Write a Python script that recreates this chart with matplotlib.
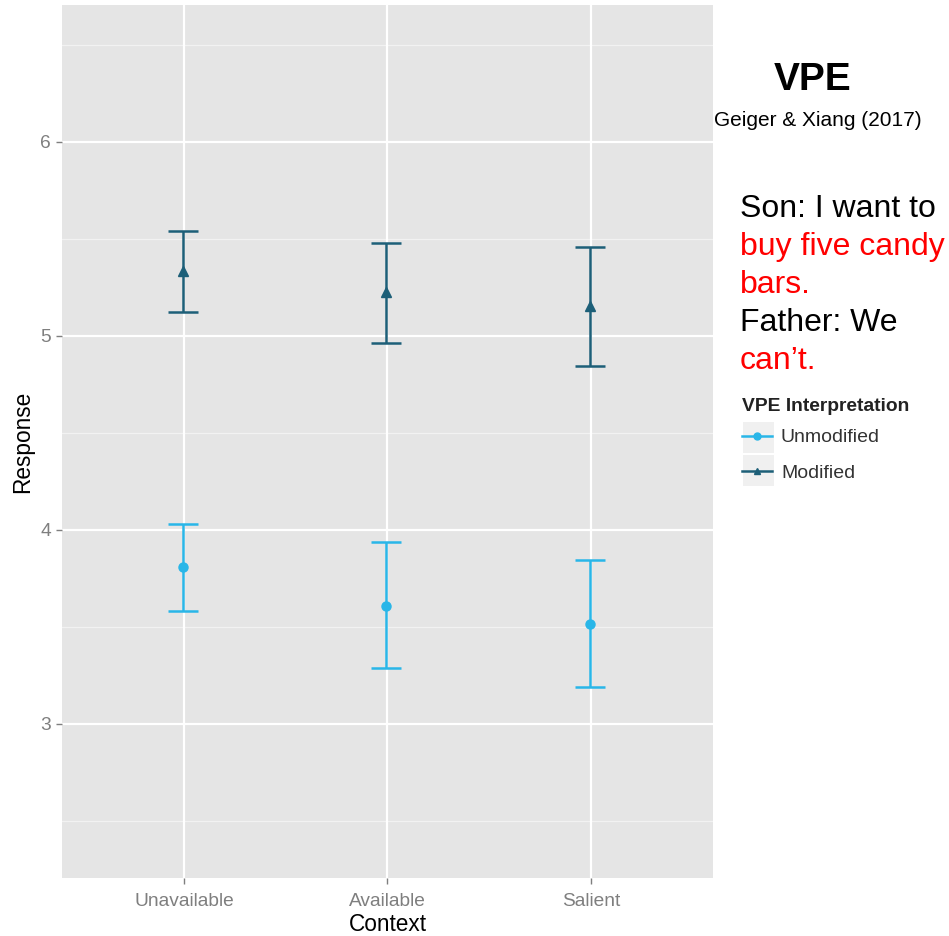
import matplotlib
matplotlib.use("Agg")
import matplotlib.pyplot as plt
from matplotlib.lines import Line2D
from matplotlib.patches import Rectangle
import numpy as np

plt.rcParams['font.family'] = ['Liberation Sans', 'DejaVu Sans']

contexts = ["Unavailable", "Available", "Salient"]
series = ["Unmodified", "Modified"]
unmod_mean = [3.81, 3.61, 3.515]
unmod_low = [3.58, 3.29, 3.19]
unmod_high = [4.03, 3.94, 3.845]
mod_mean = [5.335, 5.227, 5.155]
mod_low = [5.124, 4.964, 4.845]
mod_high = [5.541, 5.479, 5.459]
yticks = [3, 4, 5, 6]

col_unmod = "#29b6e8"
col_mod = "#1d5f78"

W, H = 949, 936
fig = plt.figure(figsize=(W/100, H/100), dpi=100)
ax = fig.add_axes([62/W, 1-878/H, (713-62)/W, (878-5)/H])
ax.set_facecolor("#e5e5e5")
x = np.arange(1, len(contexts)+1)
ax.set_xlim(0.4, 3.6)
ax.set_ylim(2.206, 6.706)

for yv in [2.5, 3.5, 4.5, 5.5, 6.5]:
    ax.axhline(yv, color="#f2f2f2", lw=0.9, zorder=0)
for yv in yticks:
    ax.axhline(yv, color="white", lw=1.6, zorder=0)
for xv in x:
    ax.axvline(xv, color="white", lw=1.6, zorder=0)

def draw(mean, lo, hi, col, marker):
    m = np.array(mean)
    err = [m - np.array(lo), np.array(hi) - m]
    ax.errorbar(x - 0.005, m, yerr=err, fmt=marker, color=col, ecolor=col,
                elinewidth=1.8, capsize=11, capthick=1.8, ms=6.5, zorder=3)

draw(unmod_mean, unmod_low, unmod_high, col_unmod, "o")
draw(mod_mean, mod_low, mod_high, col_mod, "^")

for s in ax.spines.values():
    s.set_visible(False)
ax.set_xticks(x)
ax.set_xticklabels(contexts)
ax.set_yticks(yticks)
ax.set_yticklabels([str(v) for v in yticks])
ax.tick_params(axis="both", colors="#7f7f7f", labelcolor="#7f7f7f",
               labelsize=13.8, length=4, width=1, pad=4)
ax.tick_params(axis="x", pad=7)
ax.set_xlabel("Context", fontsize=16.3, color="black", labelpad=2)
ax.set_ylabel("Response", fontsize=16.3, color="black", labelpad=4)

fig.text(813/W, 1-80/H, "VPE", fontsize=28, fontweight="bold",
         ha="center", va="center")
fig.text(818/W, 1-121/H, "Geiger & Xiang (2017)", fontsize=15,
         ha="center", va="center")

lines = [("Son: I want to", "black"), ("buy five candy", "red"),
         ("bars.", "red"), ("Father: We", "black"), ("can\u2019t.", "red")]
for i, (t, c) in enumerate(lines):
    fig.text(740/W, 1-(209+38*i)/H, t, fontsize=23, color=c,
             ha="left", va="center")

# legend key backgrounds
for y0 in [422, 455]:
    fig.patches.append(Rectangle((743/W, 1-(y0+31)/H), 31/W, 31/H,
                                 transform=fig.transFigure,
                                 facecolor="#f0f0f0", edgecolor="none",
                                 zorder=0))

handles = [Line2D([0], [0], color=col_unmod, marker="o", ms=5, lw=1.8),
           Line2D([0], [0], color=col_mod, marker="^", ms=5, lw=1.8)]
leg = fig.legend(handles, series, title="VPE Interpretation",
                 loc="upper left", bbox_to_anchor=(742/W, 1-398/H),
                 frameon=False, fontsize=14, title_fontsize=13.9,
                 handlelength=1.55, handletextpad=0.45, labelspacing=0.9,
                 borderaxespad=0, borderpad=0)
leg.get_title().set_fontweight("bold")
leg.get_title().set_color("#222222")
leg._legend_box.align = "left"
leg._legend_box.sep = 10
for t in leg.get_texts():
    t.set_color("#333333")

fig.savefig("out.png", dpi=100)
